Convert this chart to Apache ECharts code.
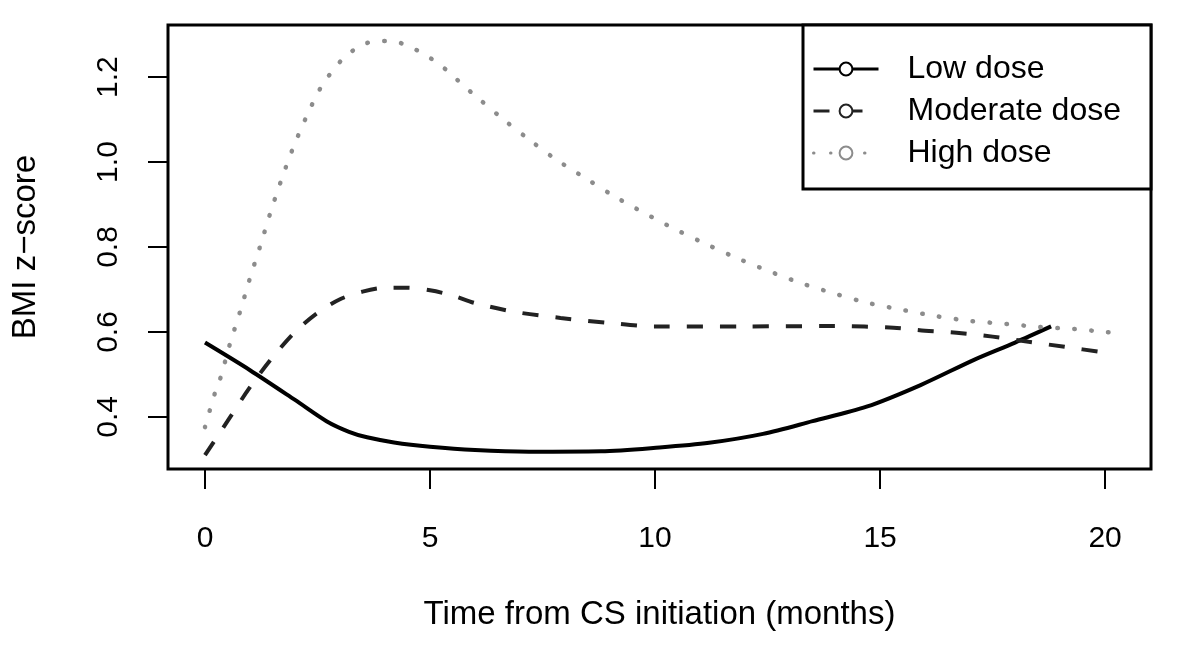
<!DOCTYPE html>
<html>
<head>
<meta charset="utf-8">
<script src="https://cdn.jsdelivr.net/npm/echarts@6/dist/echarts.min.js"></script>
<style>html,body{margin:0;padding:0;background:#fff}#c{width:1200px;height:645px}</style>
</head>
<body>
<div id="c"></div>
<script>
const seriesNames = ['Low dose', 'Moderate dose', 'High dose'];
const xTicks = [0, 5, 10, 15, 20];
const yTicks = [0.4, 0.6, 0.8, 1.0, 1.2];

const lowX = [0, 1, 2, 2.7, 3.2, 3.6, 4.2, 5, 6, 7.2, 8.8, 10.1, 11.2, 12.4, 13.5, 14.7, 15.9, 17.1, 18.0, 18.8];
const lowY = [0.575, 0.51, 0.44, 0.39, 0.365, 0.352, 0.34, 0.33, 0.322, 0.318, 0.319, 0.328, 0.339, 0.36, 0.39, 0.424, 0.475, 0.535, 0.575, 0.613];

const modX = [0, 0.5, 1, 1.5, 2, 2.5, 3, 3.5, 4, 4.5, 5, 5.5, 6, 6.9, 7.9, 9, 10, 12, 14, 15.3, 16, 16.7, 17.5, 18.3, 19.1, 19.9, 20.2];
const modY = [0.31, 0.39, 0.47, 0.54, 0.6, 0.645, 0.677, 0.695, 0.704, 0.704, 0.698, 0.686, 0.668, 0.647, 0.633, 0.621, 0.613, 0.613, 0.614, 0.61, 0.603, 0.598, 0.589, 0.577, 0.565, 0.553, 0.549];

const highX = [0, 0.22, 0.35, 0.56, 0.78, 1.0, 1.22, 1.46, 1.7, 1.96, 2.26, 2.6, 3.07, 3.4, 3.74, 4.12, 4.48, 4.83, 5.14, 5.45, 5.74, 6.02, 6.6, 7.2, 7.8, 8.47, 9.1, 9.78, 10.5, 11.15, 11.84, 12.56, 13.27, 14.0, 14.7, 15.5, 16.2, 17.0, 17.8, 18.5, 19.3, 20.0, 20.2];
const highY = [0.376, 0.456, 0.494, 0.574, 0.648, 0.727, 0.80, 0.883, 0.959, 1.034, 1.108, 1.18, 1.244, 1.27, 1.284, 1.285, 1.275, 1.256, 1.235, 1.209, 1.18, 1.155, 1.103, 1.053, 1.006, 0.961, 0.919, 0.879, 0.839, 0.806, 0.773, 0.742, 0.714, 0.69, 0.669, 0.652, 0.638, 0.626, 0.619, 0.612, 0.607, 0.60, 0.598];

const zip = (xs, ys) => xs.map((x, i) => [x, ys[i]]);
const FONT = 'Liberation Sans';

const chart = echarts.init(document.getElementById('c'), null, {renderer: 'canvas'});
chart.setOption({
  animation: false,
  backgroundColor: '#fff',
  textStyle: {fontFamily: FONT},
  grid: {left: 168, right: 49, top: 25, bottom: 176, show: true, borderColor: '#000', borderWidth: 3, backgroundColor: 'transparent'},
  legend: {
    orient: 'vertical', left: 803, top: 25,
    padding: [28, 30, 20, 9],
    borderColor: '#000', borderWidth: 3, backgroundColor: '#fff',
    itemWidth: 65, itemHeight: 16, itemGap: 10,
    lineStyle: {width: 3},
    itemStyle: {borderWidth: 2.5},
    textStyle: {fontFamily: FONT, fontSize: 32, color: '#000', lineHeight: 30, padding: [0, 0, 0, 24]},
    data: seriesNames
  },
  xAxis: {
    type: 'value', min: -0.822, max: 21.02,
    name: 'Time from CS initiation (months)', nameLocation: 'middle', nameGap: 129,
    nameTextStyle: {fontFamily: FONT, fontSize: 33, color: '#000'},
    axisLine: {show: false, onZero: false},
    axisTick: {show: true, inside: false, length: 20, customValues: xTicks, lineStyle: {color: '#000', width: 2}},
    axisLabel: {show: true, margin: 55, fontSize: 30, color: '#000', fontFamily: FONT, customValues: xTicks, formatter: v => String(v)},
    splitLine: {show: false}
  },
  yAxis: {
    type: 'value', min: 0.2774, max: 1.3226,
    name: 'BMI z\u2212score', nameLocation: 'middle', nameGap: 126,
    nameTextStyle: {fontFamily: FONT, fontSize: 33, color: '#000'},
    axisLine: {show: false, onZero: false},
    axisTick: {show: true, inside: false, length: 20, customValues: yTicks, lineStyle: {color: '#000', width: 2}},
    axisLabel: {show: true, margin: 44, rotate: 90, fontSize: 30, color: '#000', fontFamily: FONT, customValues: yTicks, formatter: v => v.toFixed(1)},
    splitLine: {show: false}
  },
  series: [
    {name: seriesNames[0], type: 'line', data: zip(lowX, lowY), smooth: 0.3, showSymbol: false, symbol: 'emptyCircle', symbolSize: 13,
     itemStyle: {color: '#000', borderWidth: 3}, lineStyle: {color: '#000', width: 4, type: 'solid'}},
    {name: seriesNames[1], type: 'line', data: zip(modX, modY), smooth: 0.3, showSymbol: false, symbol: 'emptyCircle', symbolSize: 13,
     itemStyle: {color: '#222', borderWidth: 3}, lineStyle: {color: '#222', width: 4, type: [16, 17]}},
    {name: seriesNames[2], type: 'line', data: zip(highX, highY), smooth: 0.3, showSymbol: false, symbol: 'emptyCircle', symbolSize: 13,
     itemStyle: {color: '#8c8c8c', borderWidth: 3}, lineStyle: {color: '#8c8c8c', width: 4.5, type: [0.5, 16.5], cap: 'round'}}
  ]
});
</script>
</body>
</html>
